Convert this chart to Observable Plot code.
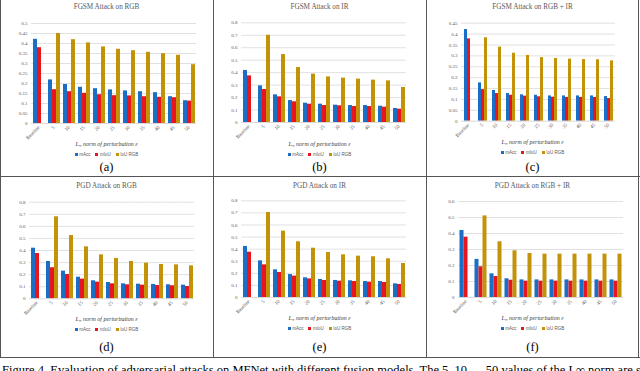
<!DOCTYPE html>
<html><head><meta charset="utf-8">
<script src="https://cdn.jsdelivr.net/npm/d3@7"></script>
<script src="https://cdn.jsdelivr.net/npm/@observablehq/plot@0.6"></script>
<style>
body{margin:0;background:#fff;font-family:"Liberation Serif",serif}
#fig{position:relative;width:640px;height:371px;overflow:hidden;background:#fff}
.panel{position:absolute;width:213px}
.panel svg{position:absolute;left:0;top:0}
.ttl{position:absolute;left:0;width:100%;text-align:center;font-size:7.2px;color:#595959;white-space:nowrap}
.axt{position:absolute;left:0;width:100%;text-align:center;font-size:6px;color:#404040;font-style:italic;white-space:nowrap}
.axt sub{font-size:4px;vertical-align:-1px}
.leg{position:absolute;left:0;width:100%;display:flex;justify-content:center;gap:5px;font-size:4.5px;color:#595959;font-family:"Liberation Sans",sans-serif}
.leg span{display:flex;align-items:center;gap:1.5px}
.leg i{display:inline-block;width:3px;height:3px}
.lab{position:absolute;left:0;width:100%;text-align:center;font-size:12.5px;color:#000}
.ln{position:absolute;background:#555}
.cap{position:absolute;left:2px;top:363px;font-size:12.5px;color:#000;white-space:nowrap}
</style></head>
<body><div id="fig"></div>
<script>
const categories = ["Baseline","5","10","15","20","25","30","35","40","45","50"];
const seriesNames = ["mAcc","mIoU","IoU RGB"];
const seriesColors = ["#1a6ec6","#e8141e","#c29208"];

const fgsmRgbAcc   = [0.421,0.218,0.195,0.181,0.174,0.168,0.163,0.159,0.154,0.134,0.114];
const fgsmRgbIoU   = [0.379,0.169,0.159,0.151,0.144,0.139,0.138,0.134,0.131,0.129,0.112];
const fgsmRgbIoURGB= [null,0.450,0.419,0.403,0.383,0.371,0.364,0.356,0.349,0.341,0.294];

const fgsmIrAcc    = [0.417,0.294,0.222,0.176,0.155,0.147,0.139,0.136,0.136,0.131,0.112];
const fgsmIrIoU    = [0.374,0.265,0.206,0.166,0.147,0.136,0.134,0.128,0.128,0.123,0.107];
const fgsmIrIoURGB = [null,0.700,0.545,0.441,0.388,0.366,0.356,0.348,0.340,0.334,0.281];

const fgsmFusAcc   = [0.421,0.176,0.141,0.127,0.121,0.119,0.116,0.116,0.116,0.116,0.113];
const fgsmFusIoU   = [0.378,0.145,0.127,0.119,0.115,0.112,0.110,0.109,0.109,0.109,0.104];
const fgsmFusIoURGB= [null,0.383,0.340,0.312,0.302,0.292,0.288,0.285,0.283,0.282,0.277];

const pgdRgbAcc    = [0.419,0.309,0.229,0.179,0.149,0.135,0.124,0.121,0.119,0.116,0.113];
const pgdRgbIoU    = [0.375,0.257,0.201,0.163,0.138,0.124,0.116,0.113,0.110,0.108,0.102];
const pgdRgbIoURGB = [null,0.679,0.524,0.430,0.364,0.334,0.309,0.295,0.284,0.281,0.273];

const pgdIrAcc     = [0.422,0.303,0.229,0.190,0.163,0.149,0.141,0.138,0.132,0.132,0.113];
const pgdIrIoU     = [0.375,0.270,0.207,0.177,0.154,0.141,0.135,0.132,0.127,0.124,0.108];
const pgdIrIoURGB  = [null,0.703,0.549,0.461,0.408,0.372,0.353,0.342,0.337,0.320,0.281];

const pgdFusAcc    = [0.419,0.238,0.148,0.117,0.110,0.110,0.110,0.110,0.110,0.110,0.110];
const pgdFusIoU    = [0.377,0.192,0.131,0.108,0.102,0.102,0.102,0.102,0.102,0.102,0.102];
const pgdFusIoURGB = [null,0.510,0.348,0.292,0.275,0.271,0.271,0.271,0.271,0.271,0.271];

const ticks050 = [0,0.05,0.1,0.15,0.2,0.25,0.3,0.35,0.4,0.45,0.5];
const ticks045 = [0,0.05,0.1,0.15,0.2,0.25,0.3,0.35,0.4,0.45];
const ticks080 = [0,0.1,0.2,0.3,0.4,0.5,0.6,0.7,0.8];
const ticks060 = [0,0.1,0.2,0.3,0.4,0.5,0.6];

const titles = ["FGSM Attack on RGB","FGSM Attack on IR","FGSM Attack on RGB + IR",
                "PGD Attack on RGB","PGD Attack on IR","PGD Attack on RGB + IR"];
const subLabels = ["(a)","(b)","(c)","(d)","(e)","(f)"];

const panels = [
  {s:[fgsmRgbAcc,fgsmRgbIoU,fgsmRgbIoURGB], t:ticks050},
  {s:[fgsmIrAcc,fgsmIrIoU,fgsmIrIoURGB], t:ticks080},
  {s:[fgsmFusAcc,fgsmFusIoU,fgsmFusIoURGB], t:ticks045},
  {s:[pgdRgbAcc,pgdRgbIoU,pgdRgbIoURGB], t:ticks080},
  {s:[pgdIrAcc,pgdIrIoU,pgdIrIoURGB], t:ticks080},
  {s:[pgdFusAcc,pgdFusIoU,pgdFusIoURGB], t:ticks060}
];
// layout (px, relative to each panel)
const layout = [
  {left:0,   top:0,   x0:29, x1:198, y0:23,   y1:123,   tt:7,  ax:141, lg:152, lb:160},
  {left:213, top:0,   x0:24, x1:197, y0:22.3, y1:122,   tt:7,  ax:141, lg:152, lb:160},
  {left:426, top:0,   x0:34, x1:190, y0:22.7, y1:120.7, tt:7,  ax:139, lg:150, lb:160},
  {left:0,   top:177, x0:26, x1:196, y0:24.7, y1:121.3, tt:9,  ax:139, lg:150, lb:163},
  {left:213, top:177, x0:27, x1:194, y0:23.3, y1:120,   tt:9,  ax:138, lg:149, lb:163},
  {left:426, top:177, x0:30.5, x1:198, y0:24, y1:120,   tt:9,  ax:138, lg:149, lb:163}
];

const fmt = d => String(+d.toFixed(2));
const fig = document.getElementById("fig");

panels.forEach((p, k) => {
  const L = layout[k];
  const rows = [];
  categories.forEach((c, i) => seriesNames.forEach((s, j) => {
    const v = p.s[j][i];
    if (v != null) rows.push({cat: c, series: s, value: v});
  }));
  const div = document.createElement("div");
  div.className = "panel";
  div.style.left = L.left + "px";
  div.style.top = L.top + "px";
  div.style.height = "180px";
  const chart = Plot.plot({
    width: 213,
    height: L.y1 + 26,
    marginLeft: L.x0, marginRight: 213 - L.x1,
    marginTop: L.y0, marginBottom: 26,
    style: {fontFamily: "Liberation Serif", fontSize: "5px", color: "#595959", background: "transparent"},
    fx: {domain: categories, padding: 0, axis: "bottom", tickRotate: -45, tickSize: 0, tickPadding: 3, label: null},
    x: {domain: seriesNames, axis: null, paddingInner: 0, paddingOuter: 0.29},
    y: {domain: [0, p.t[p.t.length - 1]], ticks: p.t, tickFormat: fmt, tickSize: 0, tickPadding: 4, label: null},
    color: {domain: seriesNames, range: seriesColors},
    marks: [
      Plot.ruleY(p.t.slice(1), {stroke: "#d9d9d9", strokeWidth: 0.8}),
      Plot.barY(rows, {fx: "cat", x: "series", y: "value", fill: "series"}),
      Plot.ruleY([0], {stroke: "#d0d0d0", strokeWidth: 0.8})
    ]
  });
  div.appendChild(chart);
  const add = (cls, top, html) => {
    const e = document.createElement("div");
    e.className = cls; e.style.top = top + "px"; e.innerHTML = html;
    div.appendChild(e);
  };
  add("ttl", L.tt - 4, titles[k]);
  add("axt", L.ax, '<i>L</i><sub>∞</sub> norm of perturbation <i>ε</i>');
  add("leg", L.lg, seriesNames.map((s, j) =>
    `<span><i style="background:${seriesColors[j]}"></i>${s}</span>`).join(""));
  add("lab", L.lb, subLabels[k]);
  fig.appendChild(div);
});

// frame lines
const line = (l, t, w, h) => {
  const e = document.createElement("div");
  e.className = "ln";
  Object.assign(e.style, {left: l + "px", top: t + "px", width: w + "px", height: h + "px"});
  fig.appendChild(e);
};
[0, 213, 426, 638].forEach(x => line(x, 0, 1, 358));
line(0, 176, 640, 1);
line(0, 357, 640, 1);

const cap = document.createElement("div");
cap.className = "cap";
cap.textContent = "Figure 4. Evaluation of adversarial attacks on MFNet with different fusion models. The 5, 10, ... 50 values of the L∞ norm are shown";
fig.appendChild(cap);
</script></body></html>
